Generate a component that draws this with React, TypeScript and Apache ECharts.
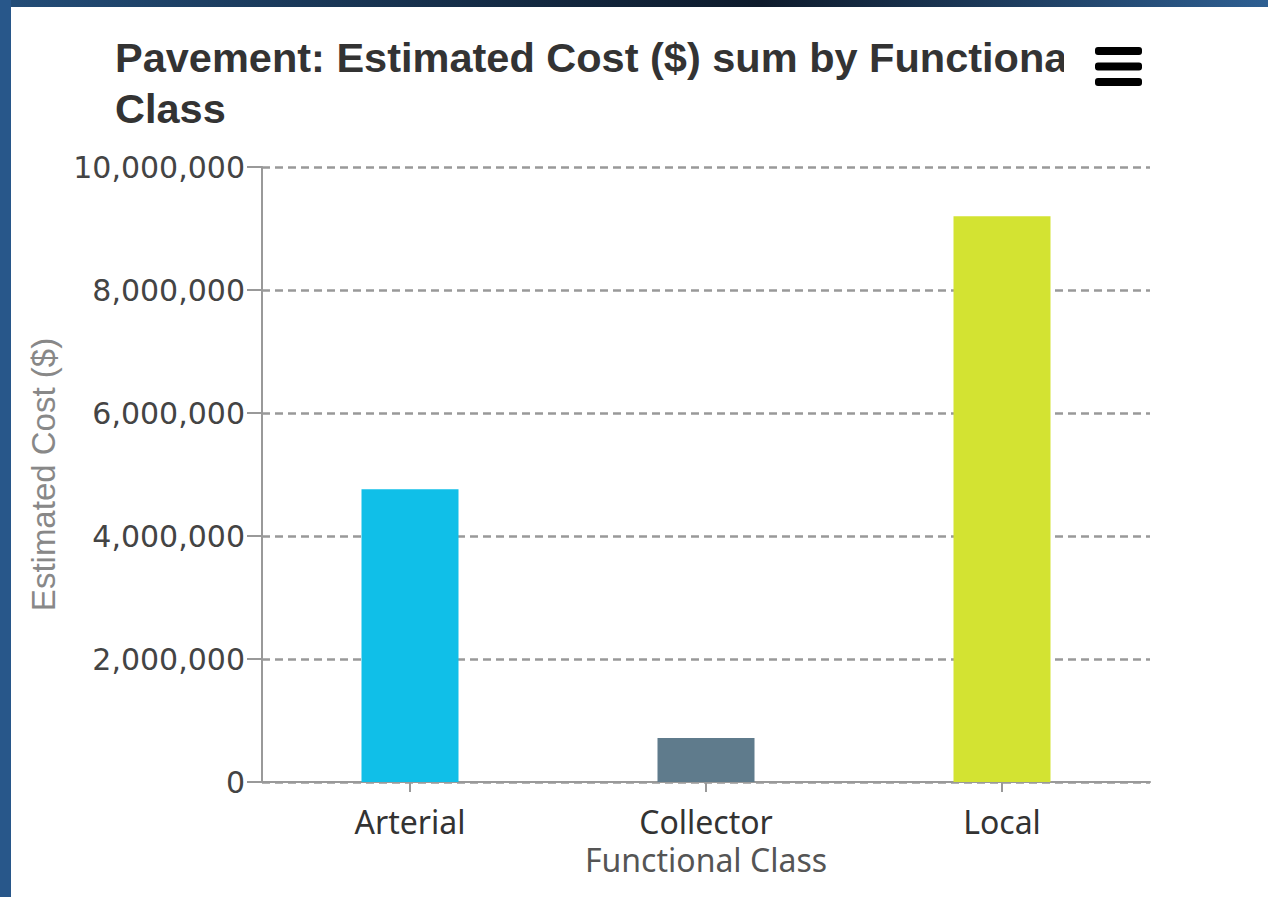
import React, { useEffect, useRef } from "react";
import * as echarts from "echarts";

const categories = ["Arterial", "Collector", "Local"];
const costValues = [4760000, 715000, 9200000];
const barColors = ["#10bfe8", "#5f7b8c", "#d3e332"];
const yTicks = { min: 0, max: 10000000, interval: 2000000 };
const titleText = "Pavement: Estimated Cost ($) sum by Functional\nClass";
const yName = "Estimated Cost ($)";
const xName = "Functional Class";

export default function App() {
  const ref = useRef<HTMLDivElement>(null);
  useEffect(() => {
    if (!ref.current) return;
    const chart = echarts.init(ref.current, undefined, { renderer: "svg" });
    chart.setOption({
      animation: false,
      backgroundColor: "#ffffff",
      title: {
        text: titleText,
        left: 104,
        top: 25,
        padding: 0,
        z: 2,
        textStyle: {
          fontFamily: "Liberation Sans",
          fontWeight: "bold",
          fontSize: 41.5,
          lineHeight: 51,
          color: "#333333",
        },
      },
      graphic: {
        elements: [
          { type: "rect", z: 100, shape: { x: 1053, y: 20, width: 30, height: 55 }, style: { fill: "#ffffff" } },
          { type: "rect", z: 101, shape: { x: 1084, y: 40, width: 47, height: 8, r: 3 }, style: { fill: "#000000" } },
          { type: "rect", z: 101, shape: { x: 1084, y: 55.5, width: 47, height: 8, r: 3 }, style: { fill: "#000000" } },
          { type: "rect", z: 101, shape: { x: 1084, y: 71, width: 47, height: 8, r: 3 }, style: { fill: "#000000" } },
        ],
      },
      grid: { left: 251, right: 118, top: 160, bottom: 115, containLabel: false },
      xAxis: {
        type: "category",
        data: categories,
        name: xName,
        nameLocation: "middle",
        nameGap: 62,
        nameTextStyle: { fontFamily: "Noto Sans", fontSize: 32, lineHeight: 30, color: "#555555" },
        axisLine: { show: true, lineStyle: { color: "#999999", width: 2 } },
        axisTick: { show: true, alignWithLabel: true, length: 10, lineStyle: { color: "#999999", width: 2 } },
        axisLabel: { fontFamily: "Noto Sans", fontSize: 32, lineHeight: 30, color: "#333333", margin: 24 },
      },
      yAxis: {
        type: "value",
        min: yTicks.min,
        max: yTicks.max,
        interval: yTicks.interval,
        name: yName,
        nameLocation: "middle",
        nameGap: 202,
        nameRotate: 90,
        nameTextStyle: { fontFamily: "Liberation Sans", fontSize: 33, color: "#888888" },
        axisLine: { show: true, lineStyle: { color: "#999999", width: 2 } },
        axisTick: { show: true, length: 15, lineStyle: { color: "#999999", width: 2 } },
        axisLabel: {
          fontFamily: "DejaVu Sans",
          fontSize: 30,
          color: "#444444",
          margin: 17,
          formatter: (v: number) => v.toLocaleString("en-US"),
        },
        splitLine: { show: true, lineStyle: { color: "#999999", width: 2.5, type: [8, 5] } },
      },
      series: [
        {
          type: "bar",
          barWidth: 97,
          data: costValues.map((v, i) => ({ value: v, itemStyle: { color: barColors[i] } })),
        },
      ],
    });
    return () => chart.dispose();
  }, []);
  return (
    <div
      style={{
        position: "fixed",
        left: 0,
        top: 0,
        width: 1268,
        height: 897,
        background: "linear-gradient(90deg, #234d78 0%, #12263d 45%, #0e1b2c 60%, #2e5f92 100%)",
      }}
    >
      <div style={{ position: "absolute", left: 0, top: 0, width: 11, height: 897, background: "#28578a" }} />
      <div ref={ref} style={{ position: "absolute", left: 11, top: 7, width: 1257, height: 890 }} />
    </div>
  );
}
